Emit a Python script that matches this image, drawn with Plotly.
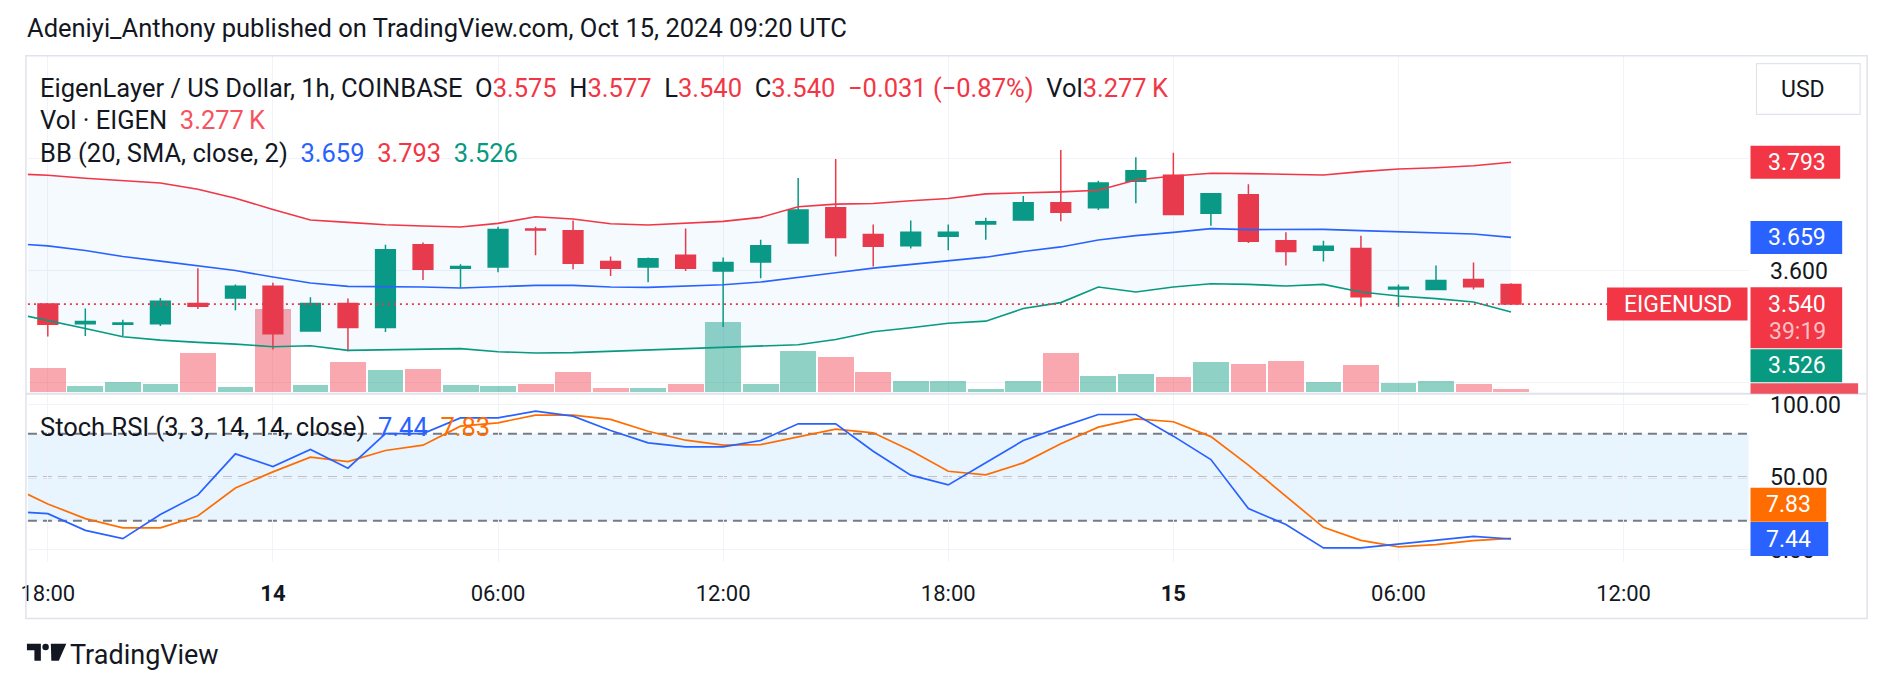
import plotly.graph_objects as go
import pandas as pd

W, H = 1888, 690
def px(x): return x / W
def py(y): return 1 - y / H

GREEN = "#089981"; RED = "#F23645"; BLUE = "#2962FF"; ORANGE = "#FF6D00"
TXT = "#131722"; GRID = "#F0F3FA"; BORDER = "#E0E3EB"
FONT = "Roboto"
TS = 25.5  # legend / title text size

# ---------------- data (hourly, 13 Oct 17:00 -> 15 Oct 09:00) ----------------
times = pd.date_range("2024-10-13 17:00", periods=41, freq="h")

open_ = [3.572, 3.540, 3.505, 3.504, 3.505, 3.541, 3.551, 3.572, 3.492, 3.541,
         3.498, 3.646, 3.604, 3.606, 3.674, 3.671, 3.616, 3.606, 3.627, 3.599,
         3.615, 3.649, 3.712, 3.664, 3.644, 3.661, 3.683, 3.690, 3.721, 3.712,
         3.759, 3.770, 3.702, 3.735, 3.653, 3.636, 3.639, 3.567, 3.566, 3.584, 3.575]
high = [3.576, 3.541, 3.532, 3.512, 3.551, 3.604, 3.575, 3.578, 3.552, 3.550,
        3.646, 3.650, 3.611, 3.678, 3.678, 3.689, 3.625, 3.623, 3.675, 3.623,
        3.655, 3.765, 3.799, 3.682, 3.689, 3.682, 3.694, 3.733, 3.815, 3.760,
        3.802, 3.810, 3.737, 3.754, 3.668, 3.653, 3.662, 3.575, 3.609, 3.614, 3.577]
low = [3.535, 3.482, 3.483, 3.483, 3.501, 3.531, 3.529, 3.459, 3.491, 3.456,
       3.490, 3.583, 3.569, 3.597, 3.627, 3.602, 3.590, 3.579, 3.599, 3.499,
       3.586, 3.648, 3.625, 3.607, 3.639, 3.636, 3.655, 3.690, 3.688, 3.708,
       3.720, 3.700, 3.680, 3.649, 3.609, 3.616, 3.535, 3.535, 3.566, 3.566, 3.540]
close = [3.540, 3.504, 3.509, 3.506, 3.545, 3.536, 3.572, 3.487, 3.541, 3.498,
         3.637, 3.602, 3.607, 3.673, 3.672, 3.613, 3.604, 3.621, 3.604, 3.614,
         3.644, 3.708, 3.659, 3.643, 3.668, 3.668, 3.687, 3.721, 3.704, 3.756,
         3.778, 3.700, 3.737, 3.652, 3.634, 3.643, 3.553, 3.570, 3.582, 3.571, 3.540]
volume_k = [18.0, 29.1, 7.0, 11.9, 9.4, 47.6, 5.7, 102.9, 8.2, 36.5,
            26.7, 27.9, 8.2, 7.0, 9.4, 24.2, 4.5, 4.5, 9.4, 85.7,
            9.4, 50.0, 42.6, 24.2, 13.1, 13.1, 3.3, 13.1, 47.6, 19.3,
            21.7, 18.0, 36.5, 34.0, 37.7, 11.9, 32.8, 10.7, 13.1, 9.4, 3.277]

bb_upper = [3.7728, 3.7698, 3.7645, 3.7598, 3.7562, 3.7450, 3.7290, 3.7089, 3.6899, 3.6858,
            3.6817, 3.6793, 3.6775, 3.6840, 3.6959, 3.6917, 3.6834, 3.6811, 3.6846, 3.6876,
            3.6947, 3.7136, 3.7183, 3.7195, 3.7243, 3.7284, 3.7367, 3.7379, 3.7402, 3.7432,
            3.7615, 3.7686, 3.7734, 3.7728, 3.7716, 3.7704, 3.7763, 3.7811, 3.7834, 3.7870, 3.793]
bb_basis = [3.6485, 3.6438, 3.6355, 3.6249, 3.6166, 3.6089, 3.6000, 3.5882, 3.5775, 3.5716,
            3.5716, 3.5704, 3.5686, 3.5716, 3.5734, 3.5734, 3.5704, 3.5698, 3.5722, 3.5746,
            3.5793, 3.5882, 3.5959, 3.6041, 3.6107, 3.6166, 3.6237, 3.6337, 3.6420, 3.6544,
            3.6621, 3.6680, 3.6746, 3.6728, 3.6728, 3.6734, 3.6710, 3.6686, 3.6669, 3.6651, 3.659]
bb_lower = [3.5249, 3.5112, 3.4964, 3.4817, 3.4757, 3.4716, 3.4686, 3.4639, 3.4657, 3.4574,
            3.4580, 3.4592, 3.4604, 3.4550, 3.4527, 3.4533, 3.4556, 3.4580, 3.4598, 3.4621,
            3.4645, 3.4675, 3.4769, 3.4905, 3.4976, 3.5059, 3.5095, 3.5320, 3.5426, 3.5704,
            3.5615, 3.5704, 3.5763, 3.5751, 3.5722, 3.5751, 3.5615, 3.5544, 3.5497, 3.5438, 3.526]

stoch_k = [26.5, 24.9, 13.4, 7.7, 24.3, 37.8, 66.1, 57.4, 69.1, 56.2,
           80.1, 80.1, 90.9, 90.9, 95.5, 92.1, 82.2, 73.7, 70.9, 70.9,
           75.3, 86.8, 86.8, 67.9, 51.4, 44.7, 59.9, 75.3, 84.5, 93.2,
           93.2, 78.3, 62.2, 28.4, 17.4, 1.3, 1.3, 3.8, 6.5, 9.3, 7.44]
stoch_d = [44.0, 31.6, 21.5, 15.1, 15.1, 23.3, 42.6, 53.7, 63.8, 60.8,
           68.4, 72.1, 85.2, 87.5, 92.8, 92.8, 89.8, 81.7, 75.5, 72.1,
           72.5, 78.0, 83.1, 80.6, 68.4, 54.1, 51.6, 59.9, 73.0, 84.5,
           90.2, 88.2, 78.0, 58.3, 36.9, 15.5, 6.5, 2.0, 3.6, 6.3, 7.83]

tick_times = ["2024-10-13 18:00", "2024-10-14 00:00", "2024-10-14 06:00", "2024-10-14 12:00",
              "2024-10-14 18:00", "2024-10-15 00:00", "2024-10-15 06:00", "2024-10-15 12:00"]
tick_text = ["18:00", "<b>14</b>", "06:00", "12:00", "18:00", "<b>15</b>", "06:00", "12:00"]

price_ticks = [3.4, 3.6, 3.8]
price_tick_text = ["", "3.600", ""]
rsi_ticks = [0, 50, 100]
rsi_tick_text = ["0.00", "50.00", "100.00"]

# ---------------- figure ----------------
t0 = pd.Timestamp("2024-10-13 18:00")
x_range = [t0 - pd.Timedelta(hours=0.53), t0 + pd.Timedelta(hours=45.33)]

vol_colors = ["rgba(8,153,129,0.45)" if c >= o else "rgba(242,54,69,0.43)"
              for o, c in zip(open_, close)]

fig = go.Figure()
fig.add_trace(go.Bar(x=times, y=volume_k, marker=dict(color=vol_colors, line=dict(width=0)),
                     width=0.955 * 3600000, xaxis="x", yaxis="y", hoverinfo="skip"))
fig.add_trace(go.Scatter(x=times, y=bb_lower, mode="lines", line=dict(color=GREEN, width=1.6),
                         xaxis="x", yaxis="y3", hoverinfo="skip"))
fig.add_trace(go.Scatter(x=times, y=bb_upper, mode="lines", line=dict(color=RED, width=1.6),
                         fill="tonexty", fillcolor="rgba(33,150,243,0.05)",
                         xaxis="x", yaxis="y3", hoverinfo="skip"))
fig.add_trace(go.Scatter(x=times, y=bb_basis, mode="lines", line=dict(color=BLUE, width=1.6),
                         xaxis="x", yaxis="y3", hoverinfo="skip"))
fig.add_trace(go.Candlestick(x=times, open=open_, high=high, low=low, close=close,
                             increasing=dict(line=dict(color=GREEN, width=1.5), fillcolor=GREEN),
                             decreasing=dict(line=dict(color=RED, width=1.5), fillcolor=RED),
                             whiskerwidth=0, xaxis="x", yaxis="y3", hoverinfo="skip"))
fig.add_trace(go.Scatter(x=times, y=stoch_d, mode="lines", line=dict(color=ORANGE, width=1.7),
                         xaxis="x2", yaxis="y2", hoverinfo="skip"))
fig.add_trace(go.Scatter(x=times, y=stoch_k, mode="lines", line=dict(color=BLUE, width=1.7),
                         xaxis="x2", yaxis="y2", hoverinfo="skip"))

xcommon = dict(type="date", range=x_range, tickvals=tick_times, showgrid=True, gridcolor=GRID,
               gridwidth=1, zeroline=False, showline=False, fixedrange=True,
               domain=[px(21), px(1748)])
fig.update_layout(
    width=W, height=H, margin=dict(l=0, r=0, t=0, b=0),
    paper_bgcolor="white", plot_bgcolor="rgba(0,0,0,0)",
    showlegend=False, boxgap=0.25, bargap=0,
    font=dict(family=FONT, color=TXT, size=22),
    xaxis=dict(**xcommon, anchor="y", showticklabels=False, rangeslider=dict(visible=False)),
    xaxis2=dict(**xcommon, anchor="y2", matches="x", ticktext=tick_text, ticks="outside",
                ticklen=12, tickcolor="rgba(0,0,0,0)", tickfont=dict(size=22, color=TXT, family=FONT)),
    yaxis=dict(domain=[py(394), py(54)], range=[-2.8, 415], visible=False, fixedrange=True),
    yaxis3=dict(overlaying="y", anchor="x", side="right", range=[3.38, 3.9833],
                tickvals=price_ticks, ticktext=price_tick_text, showgrid=True, gridcolor=GRID,
                zeroline=False, ticks="outside", ticklen=16, tickcolor="rgba(0,0,0,0)",
                tickfont=dict(size=23, color=TXT, family=FONT), fixedrange=True),
    yaxis2=dict(domain=[py(563), py(394)], anchor="x2", side="right", range=[-8.22, 107.53],
                tickvals=rsi_ticks, ticktext=rsi_tick_text, showgrid=True, gridcolor=GRID,
                zeroline=False, ticks="outside", ticklen=16, tickcolor="rgba(0,0,0,0)",
                tickfont=dict(size=23, color=TXT, family=FONT), fixedrange=True),
)

shapes = []
# stoch RSI band and levels
shapes.append(dict(type="rect", xref="x2 domain", yref="y2", x0=0, x1=1, y0=20, y1=80,
                   fillcolor="rgba(33,150,243,0.1)", line=dict(width=0), layer="below"))
for lvl, col in [(80, "#787B86"), (50, "rgba(120,123,134,0.55)"), (20, "#787B86")]:
    shapes.append(dict(type="line", xref="x2 domain", yref="y2", x0=0, x1=1, y0=lvl, y1=lvl,
                       line=dict(color=col, width=2, dash="9px,6px"), layer="below"))
# last price dotted line
last = close[-1]
shapes.append(dict(type="line", xref="paper", yref="y3", x0=px(21), x1=px(1606),
                   y0=last, y1=last, line=dict(color=RED, width=1.8, dash="2px,4px"), layer="above"))
# outer frame and pane separator
shapes.append(dict(type="rect", xref="paper", yref="paper", x0=px(19), x1=px(1867), y0=py(620), y1=py(54),
                   line=dict(color=BORDER, width=1.5), fillcolor="rgba(0,0,0,0)", layer="above"))
shapes.append(dict(type="line", xref="paper", yref="paper", x0=px(19), x1=px(1867), y0=py(394), y1=py(394),
                   line=dict(color=BORDER, width=2), layer="above"))

def box(y_val, yref, ylo, yhi, x0, x1, color):
    shapes.append(dict(type="rect", xref="paper", yref=yref, ysizemode="pixel", yanchor=y_val,
                       x0=px(x0), x1=px(x1), y0=ylo, y1=yhi, fillcolor=color,
                       line=dict(width=0), layer="above"))

box(bb_upper[-1], "y3", -16.5, 16.5, 1750, 1840, RED)
box(bb_basis[-1], "y3", -16.5, 16.5, 1750, 1842, BLUE)
box(last, "y3", -44.2, 16.8, 1750, 1842, RED)
box(last, "y3", -16.5, 16.5, 1606, 1747, RED)
box(last, "y3", -78.2, -45.2, 1750, 1842, GREEN)
box(last, "y3", -90.0, -79.2, 1750, 1858, "#EF5360")
box(stoch_d[-1], "y2", 16.6, 50.6, 1750, 1826, ORANGE)
box(stoch_k[-1], "y2", -17, 17, 1750, 1828, BLUE)

# USD button
shapes.append(dict(type="rect", xref="paper", yref="paper", x0=px(1756), x1=px(1860), y0=py(113), y1=py(62),
                   line=dict(color=BORDER, width=1.2), fillcolor="white", layer="above"))
# TradingView logo (approximate glyph)
LT, LB = 645.5, 662.5
shapes.append(dict(type="path", xref="paper", yref="paper", fillcolor="#131722", line=dict(width=0),
                   layer="above",
                   path=f"M {px(20)},{py(LT)} L {px(34)},{py(LT)} L {px(34)},{py(LB)} "
                        f"L {px(27.5)},{py(LB)} L {px(27.5)},{py(652)} L {px(20)},{py(652)} Z"))
shapes.append(dict(type="circle", xref="paper", yref="paper", fillcolor="#131722", line=dict(width=0),
                   layer="above", x0=px(35.5), x1=px(42), y0=py(652), y1=py(LT)))
shapes.append(dict(type="path", xref="paper", yref="paper", fillcolor="#131722", line=dict(width=0),
                   layer="above",
                   path=f"M {px(44)},{py(LT)} L {px(59.5)},{py(LT)} L {px(52)},{py(LB)} "
                        f"L {px(44.5)},{py(LB)} Z"))
fig.update_layout(shapes=shapes)

ann = []
def lab(text, x, y, yref="paper", yshift=0, color="white", size=23, xanchor="center"):
    ann.append(dict(text=text, x=x, y=y, xref="paper", yref=yref, yshift=yshift, showarrow=False,
                    xanchor=xanchor, yanchor="middle", font=dict(color=color, size=size, family=FONT)))

NB = "\u00a0"
chg = close[-1] - close[-2]
pct = chg / close[-2] * 100
def sgn(v, fmt):
    return ("\u2212" if v < 0 else "+") + format(abs(v), fmt)

lab("Adeniyi_Anthony published on TradingView.com, Oct 15, 2024 09:20 UTC", px(18), py(26),
    color=TXT, size=TS, xanchor="left")
line1 = ("EigenLayer / US Dollar, 1h, COINBASE" + NB * 2 +
         f"O<span style='color:{RED}'>{open_[-1]:.3f}</span>" + NB * 2 +
         f"H<span style='color:{RED}'>{high[-1]:.3f}</span>" + NB * 2 +
         f"L<span style='color:{RED}'>{low[-1]:.3f}</span>" + NB * 2 +
         f"C<span style='color:{RED}'>{close[-1]:.3f}</span>" + NB * 2 +
         f"<span style='color:{RED}'>{sgn(chg, '.3f')} ({sgn(pct, '.2f')}%)</span>" + NB * 2 +
         f"Vol<span style='color:{RED}'>{volume_k[-1]:.3f}\u2009K</span>")
lab(line1, px(31), py(87), color=TXT, size=TS, xanchor="left")
lab(f"Vol · EIGEN{NB*2}<span style='color:#F7525F'>{volume_k[-1]:.3f}\u2009K</span>",
    px(31), py(119), color=TXT, size=TS, xanchor="left")
lab(f"BB (20, SMA, close, 2){NB*2}<span style='color:{BLUE}'>{bb_basis[-1]:.3f}</span>{NB*2}"
    f"<span style='color:{RED}'>{bb_upper[-1]:.3f}</span>{NB*2}"
    f"<span style='color:{GREEN}'>{bb_lower[-1]:.3f}</span>", px(31), py(152), color=TXT, size=TS, xanchor="left")
lab(f"Stoch RSI (3, 3, 14, 14, close){NB*2}<span style='color:{BLUE}'>{stoch_k[-1]:.2f}</span>{NB*2}"
    f"<span style='color:{ORANGE}'>{stoch_d[-1]:.2f}</span>", px(31), py(427), color=TXT, size=TS, xanchor="left")

lab("USD", px(1803), py(88), color=TXT, size=23)
lab(f"{bb_upper[-1]:.3f}", px(1797), bb_upper[-1], yref="y3")
lab(f"{bb_basis[-1]:.3f}", px(1797), bb_basis[-1], yref="y3")
lab(f"{last:.3f}", px(1797), last, yref="y3")
lab("39:19", px(1797), last, yref="y3", yshift=-27, color="rgba(255,255,255,0.7)")
lab("EIGENUSD", px(1677), last, yref="y3", size=23)
lab(f"{bb_lower[-1]:.3f}", px(1797), last, yref="y3", yshift=-61.7)
lab(f"{stoch_d[-1]:.2f}", px(1788), stoch_d[-1], yref="y2", yshift=33.6)
lab(f"{stoch_k[-1]:.2f}", px(1788), stoch_k[-1], yref="y2")
lab("TradingView", px(61), py(657), color=TXT, size=27, xanchor="left")
fig.update_layout(annotations=ann)

fig.write_html("out.html")
